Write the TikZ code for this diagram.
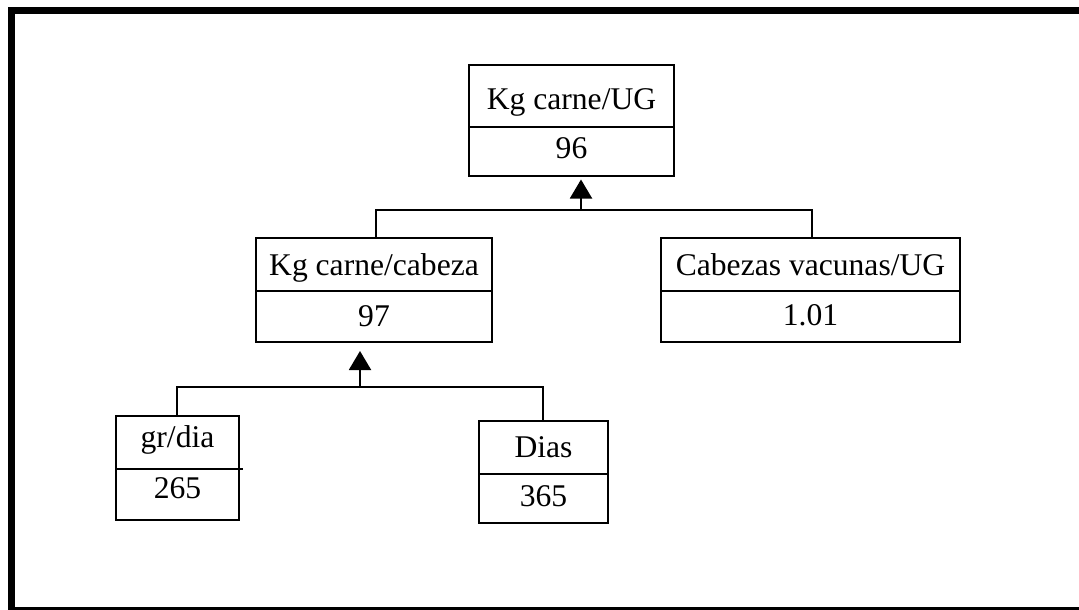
\documentclass[tikz,border=0pt]{standalone}
\usepackage{fontspec}
\setmainfont{Liberation Serif}
\usetikzlibrary{arrows.meta}
\begin{document}
\begin{tikzpicture}[x=1pt,y=-1pt,
  cell/.style={draw=black, line width=2pt, rectangle, inner sep=0pt, outer sep=0pt,
    font=\fontsize{31.6}{36}\selectfont, text height=#1pt, text depth=0pt},
  conn/.style={draw=black, line width=2pt},
  arr/.style={conn, -{Triangle[width=22pt,length=19pt]}}]
\useasboundingbox (0,0) rectangle (1079,610);
\clip (0,0) rectangle (1079,610);
\draw[line width=7pt] (11.5,10.5) rectangle (1090,610.5);

% top
\node[cell=28, minimum width=205pt, minimum height=62pt] (ugt) at (571.5,96) {Kg carne/UG};
\node[cell=13, minimum width=205pt, minimum height=49pt] (ugv) at (571.5,151.5) {96};
% middle
\node[cell=21, minimum width=236pt, minimum height=53pt] (kct) at (374,264.5) {Kg carne/cabeza};
\node[cell=19, minimum width=236pt, minimum height=51pt] (kcv) at (374,316.5) {97};
\node[cell=21, minimum width=299pt, minimum height=53pt] (cvt) at (810.5,264.5) {Cabezas vacunas/UG};
\node[cell=17, minimum width=299pt, minimum height=51pt] (cvv) at (810.5,316.5) {1.01};
% bottom
\node[cell=9, minimum width=123pt, minimum height=53pt] (grt) at (177.5,442.5) {gr/dia};
\node[cell=7, minimum width=123pt, minimum height=51pt] (grv) at (177.5,494.5) {265};
\draw[conn] (grt.south east) -- ++(4,0);
\node[cell=19, minimum width=129pt, minimum height=53pt] (dit) at (543.5,447.5) {Dias};
\node[cell=15, minimum width=129pt, minimum height=49pt] (div) at (543.5,498.5) {365};

% connectors level 1
\coordinate (a1) at (581,210);
\coordinate (h1l) at (376,210);
\coordinate (h1r) at (812,210);
\draw[conn] (kct.north -| h1l) -- (h1l) -- (h1r) -- (cvt.north -| h1r);
\draw[arr, shorten >=3.5pt] (a1) -- (ugv.south -| a1);

% connectors level 2
\coordinate (a2) at (360,387);
\coordinate (h2l) at (177,387);
\coordinate (h2r) at (543,387);
\draw[conn] (grt.north -| h2l) -- (h2l) -- (h2r) -- (dit.north -| h2r);
\draw[arr, shorten >=9pt] (a2) -- (kcv.south -| a2);
\end{tikzpicture}
\end{document}
